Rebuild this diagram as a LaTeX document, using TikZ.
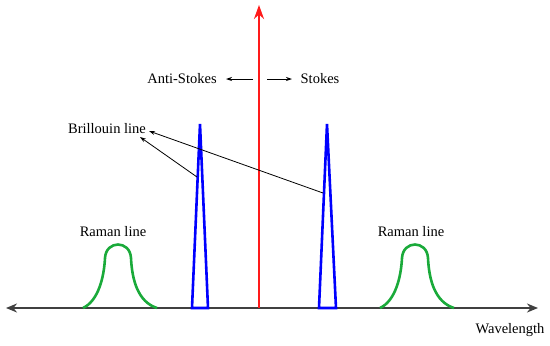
\documentclass[tikz,border=0pt]{standalone}
\usepackage{fontspec}
\setmainfont{Liberation Serif}
\usetikzlibrary{arrows.meta}
\definecolor{axisgray}{HTML}{404040}
\definecolor{ramangreen}{HTML}{1AAA3A}
\definecolor{brilblue}{HTML}{0000FF}
\definecolor{laserred}{HTML}{FF1A1A}
\tikzset{
  lbl/.style={font=\fontsize{14.5}{16}\selectfont, inner sep=0pt},
  ptr/.style={draw=black, line width=0.8pt, -{Stealth[length=6pt,width=4pt]}},
  ramanc/.style={draw=ramangreen, line width=2.6pt},
  brilc/.style={draw=brilblue, line width=2.6pt, line join=miter},
}
\begin{document}
\begin{tikzpicture}[x=1pt,y=-1pt]
\useasboundingbox (0,0) rectangle (550,346);
% axis
\coordinate (axL) at (6,308);
\coordinate (axR) at (538,308);
\draw[axisgray, line width=2.4pt, {Stealth[length=11pt,width=9pt]}-{Stealth[length=11pt,width=9pt]}] (axL) -- (axR);
% Raman curves
\draw[ramanc] (83,308) .. controls (98,301) and (104,278) .. (105,258)
   .. controls (106,240) and (130,240) .. (131,258)
   .. controls (132,280) and (138,302) .. (157,308);
\draw[ramanc] (380,308) .. controls (395,301) and (401,278) .. (402,258)
   .. controls (403,240) and (427,240) .. (428,258)
   .. controls (429,280) and (435,302) .. (454,308);
% Brillouin peaks
\draw[brilc] (192,308) -- (200,124) -- (208,308) -- cycle;
\draw[brilc] (319,308) -- (327,124) -- (336,308) -- cycle;
% laser line
\coordinate (redB) at (259,308);
\coordinate (redT) at (259,5);
\draw[laserred, line width=2.8pt, -{Stealth[length=14pt,width=10pt]}] (redB) -- (redT);
% labels
\node[lbl] (ramL) at (113,232) {Raman line};
\node[lbl] (ramR) at (411,232) {Raman line};
\node[lbl] (wave) at (510,330) {Wavelength};
\node[lbl] (anti) at (182,79) {Anti-Stokes};
\node[lbl] (stok) at (320,79) {Stokes};
\node[lbl] (bril) at (107,129) {Brillouin line};
% direction arrows
\coordinate (aS) at (253,79);
\coordinate (aE) at (226,79);
\coordinate (sS) at (267,79);
\coordinate (sE) at (292,79);
\draw[ptr] (aS) -- (aE);
\draw[ptr] (sS) -- (sE);
% Brillouin pointers
\coordinate (b1) at (323,193);
\coordinate (b1e) at (149,131);
\coordinate (b2) at (197,177);
\coordinate (b2e) at (140,137);
\draw[ptr] (b1) -- (b1e);
\draw[ptr] (b2) -- (b2e);
\end{tikzpicture}
\end{document}
